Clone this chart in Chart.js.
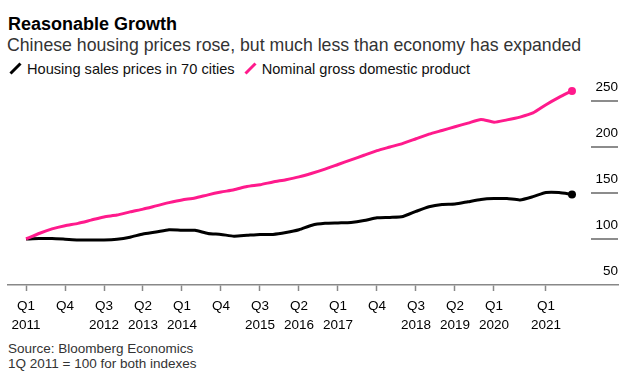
<!DOCTYPE html>
<html>
<head>
<meta charset="utf-8">
<script src="https://cdn.jsdelivr.net/npm/chart.js@4/dist/chart.umd.min.js"></script>
<style>
  html, body { margin:0; padding:0; background:#fff; }
  #wrap { position:relative; width:629px; height:383px; overflow:hidden; font-family:"Liberation Sans", Arial, sans-serif; }
  #title { position:absolute; left:8px; top:14.5px; font-size:18px; line-height:18px; font-weight:bold; color:#000; white-space:nowrap; }
  #subtitle { position:absolute; left:7px; top:37px; font-size:17.7px; line-height:16px; color:#333; white-space:nowrap; }
  #legend { position:absolute; left:9px; top:62px; font-size:14.6px; line-height:15px; color:#111; white-space:nowrap; }
  #legend .item { display:inline-block; margin-right:5px; }
  #legend svg { vertical-align:-1px; margin-right:5px; }
  #footer { position:absolute; left:8px; top:342px; font-size:13.5px; line-height:14.5px; color:#333; white-space:nowrap; }
  canvas { position:absolute; left:0; top:0; }
</style>
</head>
<body>
<div id="wrap">
  <div id="title">Reasonable Growth</div>
  <div id="subtitle">Chinese housing prices rose, but much less than economy has expanded</div>
  <div id="legend">
    <span class="item"><svg width="13" height="13"><line x1="1.5" y1="11.5" x2="11.5" y2="1.5" stroke="#000" stroke-width="3" stroke-linecap="butt"/></svg>Housing sales prices in 70 cities</span>
    <span class="item"><svg width="13" height="13"><line x1="1.5" y1="11.5" x2="11.5" y2="1.5" stroke="#ff1a8c" stroke-width="3" stroke-linecap="butt"/></svg>Nominal gross domestic product</span>
  </div>
  <div id="footer">Source: Bloomberg Economics<br>1Q 2011 = 100 for both indexes</div>
  <canvas id="c" width="629" height="383"></canvas>
</div>
<script>
// ---- data ----
const quarters = [
  '2011 Q1','2011 Q2','2011 Q3','2011 Q4',
  '2012 Q1','2012 Q2','2012 Q3','2012 Q4',
  '2013 Q1','2013 Q2','2013 Q3','2013 Q4',
  '2014 Q1','2014 Q2','2014 Q3','2014 Q4',
  '2015 Q1','2015 Q2','2015 Q3','2015 Q4',
  '2016 Q1','2016 Q2','2016 Q3','2016 Q4',
  '2017 Q1','2017 Q2','2017 Q3','2017 Q4',
  '2018 Q1','2018 Q2','2018 Q3','2018 Q4',
  '2019 Q1','2019 Q2','2019 Q3','2019 Q4',
  '2020 Q1','2020 Q2','2020 Q3','2020 Q4',
  '2021 Q1','2021 Q2','2021 Q3'
];
const housingPrices = [
  100, 100.5, 100.5, 99.8, 99, 99, 99, 99.8, 102, 105.5, 107.5, 110,
  109.5, 109.5, 106, 105, 103, 104, 105, 105, 107, 110, 115, 117,
  117.5, 118, 120, 123, 123.5, 124.5, 130, 135, 137.5, 138, 140.5, 143,
  144, 144, 142.5, 146, 150.5, 150.5, 148.5
];
const nominalGDP = [
  100, 106, 111, 114.5, 117, 120.5, 124, 126, 129.5, 132.5, 136, 139.5,
  142.5, 144.5, 148, 151, 153.5, 157, 159, 162, 164.5, 167.5, 171.5, 176,
  181, 186, 191, 196, 200, 204, 209, 214, 218, 222, 226, 230,
  227, 229.5, 232.5, 237, 246, 254, 261
];
const tickQuarters = ['2011 Q1','2011 Q4','2012 Q3','2013 Q2','2014 Q1','2014 Q4','2015 Q3','2016 Q2','2017 Q1','2017 Q4','2018 Q3','2019 Q2','2020 Q1','2021 Q1'];
const tickTop    = ['Q1','Q4','Q3','Q2','Q1','Q4','Q3','Q2','Q1','Q4','Q3','Q2','Q1','Q1'];
const tickBottom = ['2011','','2012','2013','2014','','2015','2016','2017','','2018','2019','2020','2021'];
const yTicks = [50, 100, 150, 200, 250];

// ---- chart ----
const BLACK = '#000000';
const PINK = '#ff1a8c';
const tickIdx = tickQuarters.map(q => quarters.indexOf(q));
const lastIdx = quarters.length - 1;

const yLabels = {
  id: 'yLabels',
  afterDraw(chart) {
    const { ctx, chartArea, scales } = chart;
    const y = scales.y;
    ctx.save();
    ctx.font = '13.5px "Liberation Sans", Arial, sans-serif';
    ctx.fillStyle = '#000';
    ctx.textAlign = 'right';
    ctx.textBaseline = 'middle';
    yTicks.forEach(v => {
      const py = y.getPixelForValue(v);
      if (v > y.min) {
        ctx.strokeStyle = '#666';
        ctx.lineWidth = 1.5;
        ctx.beginPath();
        ctx.moveTo(chartArea.right - 27, py);
        ctx.lineTo(chartArea.right, py);
        ctx.stroke();
      }
      ctx.fillText(String(v), chartArea.right, py - 13.5);
    });
    ctx.restore();
  }
};

const mk = (vals) => vals.map((v, i) => ({ x: i, y: v }));

new Chart(document.getElementById('c'), {
  type: 'line',
  data: {
    datasets: [
      { label: 'Nominal gross domestic product', data: mk(nominalGDP), borderColor: PINK, backgroundColor: PINK,
        borderWidth: 3, tension: 0.2, pointRadius: c => c.dataIndex === lastIdx ? 4 : 0, pointBorderWidth: 0 },
      { label: 'Housing sales prices in 70 cities', data: mk(housingPrices), borderColor: BLACK, backgroundColor: BLACK,
        borderWidth: 3, tension: 0.2, pointRadius: c => c.dataIndex === lastIdx ? 4 : 0, pointBorderWidth: 0 }
    ]
  },
  options: {
    responsive: false,
    animation: false,
    events: [],
    layout: { padding: { left: 8, right: 11, top: 82.6, bottom: 53 } },
    plugins: { legend: { display: false }, tooltip: { enabled: false } },
    scales: {
      x: {
        type: 'linear',
        min: -1.385,
        max: 45.54,
        afterBuildTicks: s => { s.ticks = tickIdx.map(v => ({ value: v })); },
        afterFit: s => { s.height = 45; },
        grid: { drawOnChartArea: false, drawTicks: true, tickLength: 6, tickWidth: 1.5, tickColor: '#888' },
        border: { display: true, color: '#888', width: 1.5 },
        ticks: {
          autoSkip: false,
          maxRotation: 0,
          padding: 6.5,
          color: '#000',
          font: { family: '"Liberation Sans", Arial, sans-serif', size: 13.5, lineHeight: 1.35 },
          callback: (v) => {
            const k = tickIdx.indexOf(v);
            if (k < 0) return '';
            return tickBottom[k] ? [tickTop[k], tickBottom[k]] : [tickTop[k]];
          }
        }
      },
      y: { type: 'linear', min: 50, max: 270, display: false }
    }
  },
  plugins: [yLabels]
});
</script>
</body>
</html>
